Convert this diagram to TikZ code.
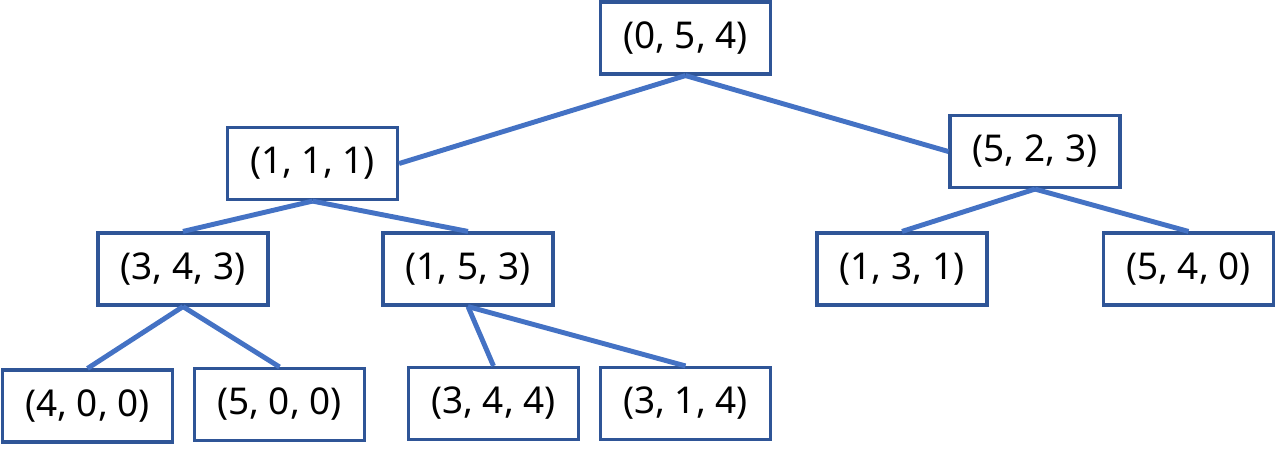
\documentclass[tikz,border=0pt]{standalone}
\usepackage{fontspec}
\setmainfont{Noto Sans}
\usetikzlibrary{positioning}
\definecolor{boxblue}{HTML}{2F5597}
\definecolor{edgeblue}{HTML}{4472C4}
\tikzset{
  treebox/.style={draw=boxblue, line width=0.9pt, fill=white, minimum width=17mm,
    minimum height=7.2mm, inner sep=0pt, font=\fontsize{10.5}{12}\selectfont},
  treeedge/.style={edgeblue, line width=1.4pt}
}
\begin{document}
\begin{tikzpicture}[x=0.1mm, y=-0.1mm]
  \useasboundingbox (0,0) rectangle (1276,452);

  % ---------- nodes ----------
  \node[treebox] (n054) at (685.5, 38) {(0, 5, 4)};

  \node[treebox] (n111) at (312.5, 163.5) {(1, 1, 1)};
  \node[treebox] (n523) at (1035, 151.5) {(5, 2, 3)};

  \node[treebox] (n343) at (183, 269) {(3, 4, 3)};
  \node[treebox] (n153) at (468, 269) {(1, 5, 3)};
  \node[treebox] (n131) at (902, 269) {(1, 3, 1)};
  \node[treebox] (n540) at (1188.5, 269) {(5, 4, 0)};

  \node[treebox] (n400) at (87.5, 406) {(4, 0, 0)};
  \node[treebox] (n500) at (279.5, 404.5) {(5, 0, 0)};
  \node[treebox] (n344) at (493.5, 403.5) {(3, 4, 4)};
  \node[treebox] (n314) at (685.5, 403.5) {(3, 1, 4)};

  % ---------- edges ----------
  \draw[treeedge] (n054.south) -- (n111.east);
  \draw[treeedge] (n054.south) -- (n523.west);

  \draw[treeedge] (n111.south) -- (n343.north);
  \draw[treeedge] (n111.south) -- (n153.north);
  \draw[treeedge] (n523.south) -- (n131.north);
  \draw[treeedge] (n523.south) -- (n540.north);

  \draw[treeedge] (n343.south) -- (n400.north);
  \draw[treeedge] (n343.south) -- (n500.north);
  \draw[treeedge] (n153.south) -- (n344.north);
  \draw[treeedge] (n153.south) -- (n314.north);
\end{tikzpicture}
\end{document}
